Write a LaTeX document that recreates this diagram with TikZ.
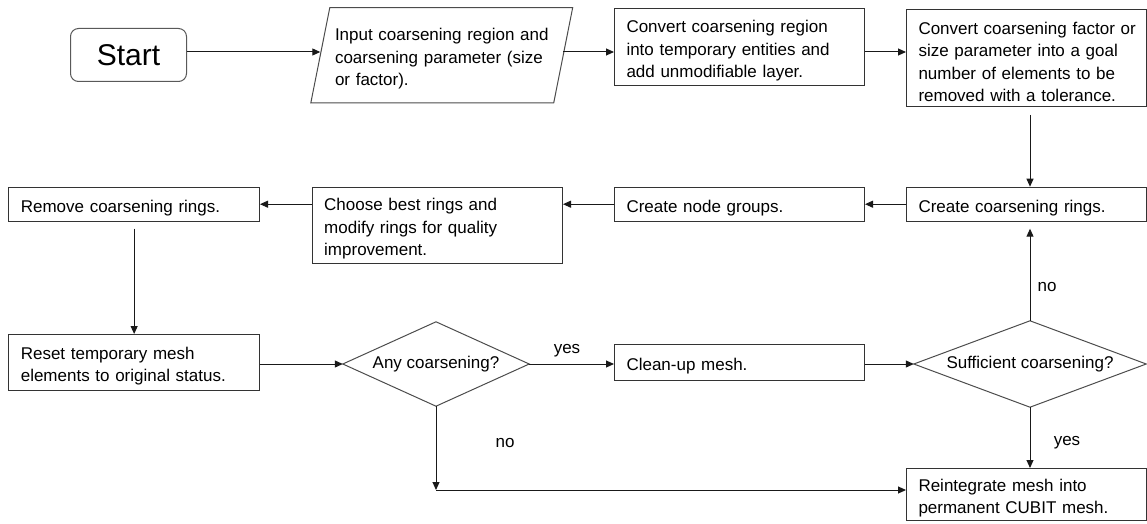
\documentclass[tikz,border=0pt]{standalone}
\usepackage{fontspec}
\setmainfont{Liberation Sans}
\usetikzlibrary{arrows.meta}
\newcommand\topfix{\rule{0pt}{20pt}}
\begin{document}
\begin{tikzpicture}[x=1pt,y=-1pt,
  every node/.style={font=\fontsize{17}{22.5}\selectfont, text=black},
  box/.style={draw=black!80, line width=1pt, rectangle, anchor=north west,
    inner xsep=12pt, inner ysep=0pt, align=left},
  startbox/.style={draw=black!65, line width=1pt, rectangle, rounded corners=8pt,
    minimum width=116pt, minimum height=53pt, inner sep=0pt,
    font=\fontsize{30}{34}\selectfont},
  hidden/.style={rectangle, inner ysep=0pt, align=left},
  outline/.style={draw=black!70, line width=1pt, line join=miter},
  arr/.style={draw=black!90, line width=1pt,
    -{Triangle[length=8pt,width=7pt]}},
  lbl/.style={inner sep=0pt}]
\path[use as bounding box] (0,0) rectangle (1147,524);

% row 1
\node[startbox] (start) at (128.5,55) {Start};
\node[hidden, minimum width=242.5pt, minimum height=95pt, text width=213.5pt,
  inner xsep=14.5pt] (input) at (441.75,55.25)
  {\topfix\mbox{Input coarsening region and}\\\mbox{coarsening parameter (size}\\\mbox{or factor).}};
\draw[outline] ([xshift=9.5pt]input.north west) -- ([xshift=9.5pt]input.north east)
  -- ([xshift=-9.5pt]input.south east) -- ([xshift=-9.5pt]input.south west) -- cycle;
\node[box, minimum width=250pt, minimum height=76.5pt, text width=226pt] (box2)
  at (614,8.5) {\topfix\mbox{Convert coarsening region}\\\mbox{into temporary entities and}\\\mbox{add unmodifiable layer.}};
\node[box, minimum width=240pt, minimum height=97pt, text width=216pt] (box3)
  at (906,9) {\topfix\mbox{Convert coarsening factor or}\\\mbox{size parameter into a goal}\\\mbox{number of elements to be}\\\mbox{removed with a tolerance.}};
\coordinate (row1) at (0,52);

% row 2
\node[box, minimum width=240pt, minimum height=34pt, text width=216pt] (rings)
  at (906,186.7) {\topfix Create coarsening rings.};
\node[box, minimum width=250pt, minimum height=34pt, text width=226pt] (groups)
  at (614,186.7) {\topfix Create node groups.};
\node[box, minimum width=250.3pt, minimum height=76pt, text width=226.3pt] (choose)
  at (311.7,186.7) {\topfix\mbox{Choose best rings and}\\\mbox{modify rings for quality}\\\mbox{improvement.}};
\node[box, minimum width=250.7pt, minimum height=34pt, text width=226.7pt] (remove)
  at (8.3,186.7) {\topfix Remove coarsening rings.};

% row 3
\node[box, minimum width=250.7pt, minimum height=56pt, text width=226.7pt] (reset)
  at (8.3,334) {\topfix\mbox{Reset temporary mesh}\\\mbox{elements to original status.}};
\node[hidden, minimum width=186pt, minimum height=84pt, inner xsep=0pt] (any)
  at (436,364) {Any coarsening?};
\draw[outline] (any.west) -- (any.north) -- (any.east) -- (any.south) -- cycle;
\node[box, minimum width=250pt, minimum height=36pt, text width=226pt] (clean)
  at (614,344) {\topfix Clean-up mesh.};
\node[hidden, minimum width=232pt, minimum height=86pt, inner xsep=0pt] (suff)
  at (1030,364) {Sufficient coarsening?};
\draw[outline] (suff.west) -- (suff.north) -- (suff.east) -- (suff.south) -- cycle;
\node[box, minimum width=240pt, minimum height=52pt, text width=216pt] (reint)
  at (906,468) {\topfix\mbox{Reintegrate mesh into}\\\mbox{permanent CUBIT mesh.}};
\coordinate (corner) at (436,490);

% connectors
\draw[arr] (start.east |- row1) -- (input.west |- row1);
\draw[arr] (input.east |- row1) -- (box2.west |- row1);
\draw[arr] (box2.east |- row1) -- (box3.west |- row1);
\draw[arr, shorten <=8pt] (box3.south -| suff.north) -- (rings.north -| suff.north);
\draw[arr] (rings.west) -- (groups.east);
\draw[arr] (groups.west) -- (groups.west -| choose.east);
\draw[arr] (choose.west |- remove.east) -- (remove.east);
\draw[arr, shorten <=7pt] (remove.south) -- (reset.north);
\draw[arr] (reset.east |- any.west) -- (any.west);
\draw[arr] (any.east) -- (any.east -| clean.west);
\draw[arr] (clean.east |- suff.west) -- (suff.west);
\draw[arr, shorten >=7pt] (suff.north) -- (rings.south -| suff.north);
\draw[arr] (suff.south) -- (reint.north -| suff.south);
\draw[arr] (any.south) -- (corner);
\draw[arr] (corner) -- (corner -| reint.west);

% labels
\node[lbl] (yesA) at (567,351) {yes};
\node[lbl] (noA) at (505,443) {no};
\node[lbl] (noB) at (1047,287) {no};
\node[lbl] (yesB) at (1067,443) {yes};
\end{tikzpicture}
\end{document}
